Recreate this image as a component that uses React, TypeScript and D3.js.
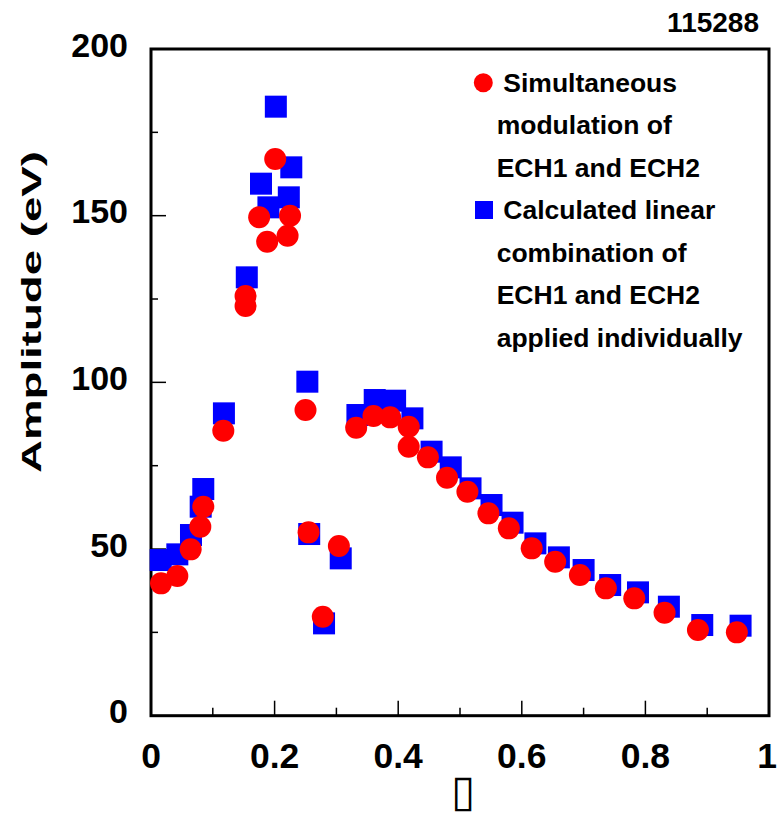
import React from "react";
import * as d3 from "d3";

// Simultaneous modulation of ECH1 and ECH2 (red circles)
const simX = [0.0162, 0.0426, 0.0642, 0.0798, 0.0846, 0.117, 0.153, 0.153, 0.175, 0.188, 0.201, 0.221, 0.225, 0.250, 0.255, 0.278, 0.304, 0.332, 0.360, 0.387, 0.417, 0.417, 0.448, 0.479, 0.512, 0.546, 0.579, 0.616, 0.654, 0.694, 0.736, 0.782, 0.831, 0.885, 0.948];
const simY = [39.7, 41.9, 49.9, 56.7, 62.7, 85.5, 125.9, 122.9, 149.5, 142.2, 167.0, 144.0, 150.0, 91.7, 55.0, 29.7, 50.9, 86.4, 89.9, 89.5, 86.7, 80.7, 77.5, 71.4, 67.2, 60.7, 56.2, 50.2, 46.2, 42.2, 38.2, 35.2, 30.9, 25.7, 25.0];

// Calculated linear combination (blue squares)
const calcX = [0.0157, 0.0426, 0.0647, 0.0804, 0.0846, 0.118, 0.155, 0.178, 0.190, 0.202, 0.223, 0.227, 0.253, 0.256, 0.280, 0.307, 0.334, 0.362, 0.395, 0.423, 0.454, 0.485, 0.517, 0.551, 0.585, 0.622, 0.660, 0.700, 0.743, 0.788, 0.838, 0.892, 0.954];
const calcY = [46.7, 48.4, 54.2, 62.7, 68.0, 90.7, 131.5, 159.6, 152.5, 182.7, 155.5, 164.5, 100.2, 54.5, 27.7, 47.2, 90.2, 94.7, 94.5, 89.2, 79.2, 74.5, 68.2, 63.2, 57.9, 51.7, 47.5, 43.7, 39.2, 37.0, 32.7, 27.2, 27.0];

const xMajorTicks = [0, 0.2, 0.4, 0.6, 0.8, 1];
const xTickLabels = ["0", "0.2", "0.4", "0.6", "0.8", "1"];
const xMinorTicks = [0.1, 0.3, 0.5, 0.7, 0.9];
const yMajorTicks = [0, 50, 100, 150, 200];
const yTickLabels = ["0", "50", "100", "150", "200"];
const yMinorTicks = [25, 75, 125, 175];

const legendSim = ["Simultaneous", "modulation of", "ECH1 and ECH2"];
const legendCalc = ["Calculated linear", "combination of", "ECH1 and ECH2", "applied individually"];

const yLabel = "Amplitude (eV)";
const xLabel = "\u25AF";
const shotNumber = "115288";

const W = 777;
const H = 817;
const L = 151, R = 769, T = 49, B = 715.7;

export default function App() {
  const x = d3.scaleLinear().domain([0, 1]).range([L, R]);
  const y = d3.scaleLinear().domain([0, 200]).range([B, T]);
  const font = "'Liberation Sans', Arial, Helvetica, sans-serif";
  const red = "#ff0000";
  const blue = "#0000ff";
  const sq = 22;
  const r = 11;

  const lineGap = 42.5;
  const legTop = 91.5;

  return (
    <svg
      width={W}
      height={H}
      style={{ position: "absolute", left: 0, top: 0, background: "#fff" }}
      fontFamily={font}
      fontWeight="bold"
    >
      <rect x={0} y={0} width={W} height={H} fill="#fff" />
      {/* ticks */}
      {xMajorTicks.slice(1, -1).map((t) => (
        <line key={"xM" + t} x1={x(t)} x2={x(t)} y1={B} y2={B - 15} stroke="#000" strokeWidth={1.5} />
      ))}
      {xMinorTicks.map((t) => (
        <line key={"xm" + t} x1={x(t)} x2={x(t)} y1={B} y2={B - 8} stroke="#000" strokeWidth={1.5} />
      ))}
      {yMajorTicks.slice(1, -1).map((t) => (
        <line key={"yM" + t} x1={L} x2={L + 15} y1={y(t)} y2={y(t)} stroke="#000" strokeWidth={1.5} />
      ))}
      {yMinorTicks.map((t) => (
        <line key={"ym" + t} x1={L} x2={L + 7} y1={y(t)} y2={y(t)} stroke="#000" strokeWidth={1.5} />
      ))}
      {/* frame */}
      <rect x={L} y={T} width={R - L} height={B - T} fill="none" stroke="#000" strokeWidth={3} />

      {/* tick labels */}
      {xMajorTicks.map((t, i) => (
        <text key={"xl" + t} x={Math.min(x(t), 767)} y={767.5} fontSize={35.5} textAnchor="middle" fill="#000">
          {xTickLabels[i]}
        </text>
      ))}
      {yMajorTicks.map((t, i) => (
        <text key={"yl" + t} x={128} y={y(t) + 7.5} fontSize={34} textAnchor="end" fill="#000">
          {yTickLabels[i]}
        </text>
      ))}

      {/* axis labels */}
      <text
        transform={`translate(40.5, 312) rotate(-90)`}
        fontSize={27}
        textAnchor="middle"
        textLength={322}
        lengthAdjust="spacingAndGlyphs"
        fill="#000"
      >
        {yLabel}
      </text>
      <text x={463} y={806} fontSize={44} textAnchor="middle" fontWeight="normal" fontFamily="'DejaVu Sans'" fill="#000">
        {xLabel}
      </text>
      <text x={759} y={32} fontSize={28} textAnchor="end" fill="#000">
        {shotNumber}
      </text>

      {/* data: squares first, circles on top */}
      {calcX.map((v, i) => (
        <rect key={"c" + i} x={x(v) - sq / 2} y={y(calcY[i]) - sq / 2} width={sq} height={sq} fill={blue} />
      ))}
      {simX.map((v, i) => (
        <circle key={"s" + i} cx={x(v)} cy={y(simY[i])} r={r} fill={red} />
      ))}

      {/* legend */}
      <circle cx={483.3} cy={82.7} r={9.5} fill={red} />
      <rect x={484 - 9} y={210 - 9} width={18} height={18} fill={blue} />
      {legendSim.map((s, i) => (
        <text key={"ls" + i} x={i === 0 ? 503.3 : 496.7} y={legTop + i * lineGap} fontSize={26.5} fill="#000">
          {s}
        </text>
      ))}
      {legendCalc.map((s, i) => (
        <text key={"lc" + i} x={i === 0 ? 503.3 : 496.7} y={legTop + (i + 3) * lineGap} fontSize={26.5} fill="#000">
          {s}
        </text>
      ))}
    </svg>
  );
}
